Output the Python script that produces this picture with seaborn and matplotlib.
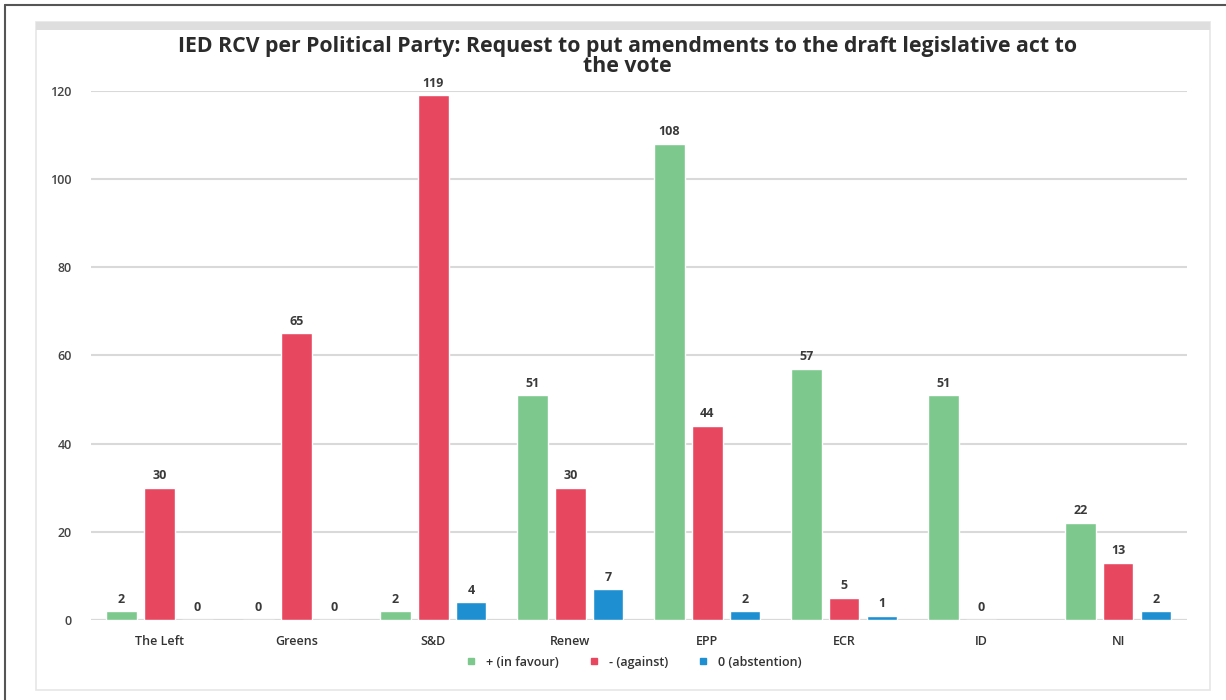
import numpy as np
import pandas as pd
import matplotlib
matplotlib.use("Agg")
import matplotlib.pyplot as plt
from matplotlib.lines import Line2D
from matplotlib.patches import Rectangle
import seaborn as sns

parties = ["The Left", "Greens", "S&D", "Renew", "EPP", "ECR", "ID", "NI"]
in_favour = [2, 0, 2, 51, 108, 57, 51, 22]
against = [30, 65, 119, 30, 44, 5, 0, 13]
abstention = [0, 0, 4, 7, 2, 1, np.nan, 2]
series_names = ["+ (in favour)", "- (against)", "0 (abstention)"]
colors = ["#7DC88C", "#E8485F", "#1E90D2"]
yticks = [0, 20, 40, 60, 80, 100, 120]

df = pd.DataFrame({
    "party": parties * 3,
    "series": [series_names[0]] * 8 + [series_names[1]] * 8 + [series_names[2]] * 8,
    "value": in_favour + against + abstention,
})

sns.set_theme(style="white")
plt.rcParams["font.family"] = ["Open Sans", "DejaVu Sans"]

fig = plt.figure(figsize=(12.26, 7.0), dpi=100)
ax = fig.add_axes([0.0742, 0.1143, 0.8938, 0.7557])

sns.barplot(data=df, x="party", y="value", hue="series", order=parties,
            hue_order=series_names, palette=colors, width=0.83, gap=0.2,
            saturation=1, ax=ax, legend=False)

for cont in ax.containers:
    for bar in cont.patches:
        if bar is None:
            continue
        h = bar.get_height()
        if h is None or np.isnan(h):
            continue
        ax.annotate(f"{int(round(h))}", (bar.get_x() + bar.get_width() / 2, h),
                    xytext=(0, 4), textcoords="offset points", ha="center", va="bottom",
                    fontsize=9, fontweight="bold", color="#3a3a3a", annotation_clip=False)

ax.set_ylim(0, 120)
ax.set_xlim(-0.5, 7.5)
ax.set_yticks(yticks)
ax.set_yticklabels([str(t) for t in yticks], fontsize=9, color="#444444", fontweight="semibold")
ax.tick_params(axis="y", length=0, pad=14)
ax.tick_params(axis="x", length=0, pad=11, labelsize=9, labelcolor="#333333")
for lab in ax.get_xticklabels():
    lab.set_fontweight("semibold")
ax.set_xlabel("")
ax.set_ylabel("")
ax.grid(axis="y", color="#d9d9d9", linewidth=1.5)
ax.set_axisbelow(True)
for s in ax.spines.values():
    s.set_visible(False)
ax.axhline(0, color="#d0d0d0", linewidth=1.5, zorder=0.5)

fig.suptitle("IED RCV per Political Party: Request to put amendments to the draft legislative act to\nthe vote",
             x=0.512, y=0.948, fontsize=15.3, fontweight="bold", color="#2b2b2b",
             linespacing=0.92)

handles = [Line2D([0], [0], marker="s", linestyle="", markersize=5,
                  markerfacecolor=c, markeredgecolor=c) for c in colors]
fig.legend(handles, series_names, loc="center", bbox_to_anchor=(0.514, 0.054),
           ncol=3, frameon=False, fontsize=9, handletextpad=0.2, columnspacing=1.8,
           labelcolor="#333333", prop={"weight": "semibold", "size": 9})

# frame of the screenshot
fig.add_artist(Line2D([0.004, 1.0], [0.993, 0.993], transform=fig.transFigure,
                      color="#555555", linewidth=1.5))
fig.add_artist(Line2D([0.004, 0.004], [0.0, 0.993], transform=fig.transFigure,
                      color="#555555", linewidth=1.5))
fig.add_artist(Rectangle((0.029, 0.014), 0.958, 0.955, transform=fig.transFigure,
                         fill=False, edgecolor="#e6e6e6", linewidth=1.2, zorder=-1))
fig.add_artist(Rectangle((0.029, 0.957), 0.958, 0.012, transform=fig.transFigure,
                         facecolor="#dedede", edgecolor="none", zorder=-1))

fig.savefig("out.png", dpi=100, facecolor="white")
